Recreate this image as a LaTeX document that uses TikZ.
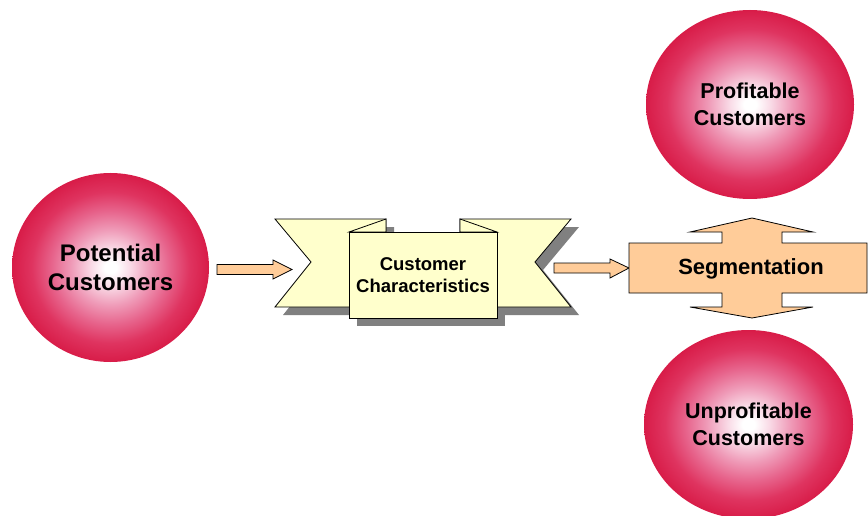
\documentclass[tikz,border=0pt]{standalone}
\usepackage{fontspec}
\setmainfont{Liberation Sans}
\usetikzlibrary{shapes.geometric}

\definecolor{ribbon}{RGB}{255,255,204}
\definecolor{peach}{RGB}{255,204,153}
\definecolor{shadowgray}{RGB}{128,128,128}
\definecolor{ballrim}{RGB}{216,28,72}
\definecolor{balldeep}{RGB}{223,52,96}
\definecolor{ballmid}{RGB}{231,100,140}
\definecolor{ballsoft}{RGB}{239,155,184}
\definecolor{balllight}{RGB}{249,218,230}

% white-centred crimson ball
\pgfdeclareradialshading{ball}{\pgfpoint{0bp}{0bp}}{%
  color(0bp)=(white);
  color(1.5bp)=(white);
  color(5bp)=(balllight);
  color(10bp)=(ballsoft);
  color(15bp)=(ballmid);
  color(20bp)=(balldeep);
  color(25bp)=(ballrim);
  color(50bp)=(ballrim)}

\begin{document}
\begin{tikzpicture}[x=1pt,y=-1pt,
  ballnode/.style={ellipse, inner sep=0pt, shading=ball, align=center,
    font=\bfseries\fontsize{21.5}{26.5}\selectfont},
  outline/.style={draw=black, line width=0.8pt, line join=miter},
  blockarrow/.style={outline, fill=peach},
  ribbonpart/.style={outline, fill=ribbon},
  shadowpart/.style={fill=shadowgray}]
\useasboundingbox (0,0) rectangle (868,516);
\clip (0,0) rectangle (868,516);

% customer groups
\node[ballnode, minimum width=197pt, minimum height=189pt,
      font=\bfseries\fontsize{24}{29}\selectfont] (pot) at (110.5,267.5) {Potential\\Customers};
\node[ballnode, minimum width=208pt, minimum height=189pt] (prof) at (750,104.5) {Profitable\\Customers};
\node[ballnode, minimum width=209pt, minimum height=189pt] (unprof) at (748.5,424.5) {Unprofitable\\Customers};

% banner shadow
\begin{scope}[shift={(8,8)}]
  \fill[shadowpart] (275,219) -- (386,219) -- (386,307) -- (275,307) -- (311,262) -- cycle;
  \fill[shadowpart] (460,219) -- (571,219) -- (535,262) -- (571,307) -- (460,307) -- cycle;
  \fill[shadowpart] (349,232) rectangle (497,318);
\end{scope}

% banner ribbons and folds
\draw[ribbonpart] (275,219) -- (386,219) -- (386,307) -- (275,307) -- (311,262) -- cycle;
\draw[ribbonpart] (460,219) -- (571,219) -- (535,262) -- (571,307) -- (460,307) -- cycle;
\draw[ribbonpart] (349,232) -- (386,219) -- (386,232) -- cycle;
\draw[ribbonpart] (460,219) -- (497,232) -- (460,232) -- cycle;

% banner face
\node[ribbonpart, minimum width=148pt, minimum height=86pt, inner sep=0pt, align=center,
      font=\bfseries\fontsize{18.5}{22}\selectfont] (chars) at (423,275) {Customer\\Characteristics};

% block arrows
\draw[blockarrow] (217,264.5) -- (273,264.5) -- (273,260) -- (292,269.5)
  -- (273,279) -- (273,274.5) -- (217,274.5) -- cycle;
\draw[blockarrow] (554,263) -- (610,263) -- (610,259) -- (629,268)
  -- (610,278) -- (610,273) -- (554,273) -- cycle;

% segmentation cross
\draw[blockarrow] (629,243) -- (722,243) -- (722,232) -- (690,232) -- (752,218)
  -- (813,232) -- (782,232) -- (782,243) -- (867,243) -- (867,293)
  -- (782,293) -- (782,307) -- (813,307) -- (752,318) -- (690,307)
  -- (722,307) -- (722,293) -- (629,293) -- cycle;
\node[font=\bfseries\fontsize{22}{26}\selectfont, inner sep=0pt] (seg) at (751,269) {Segmentation};

\end{tikzpicture}
\end{document}
